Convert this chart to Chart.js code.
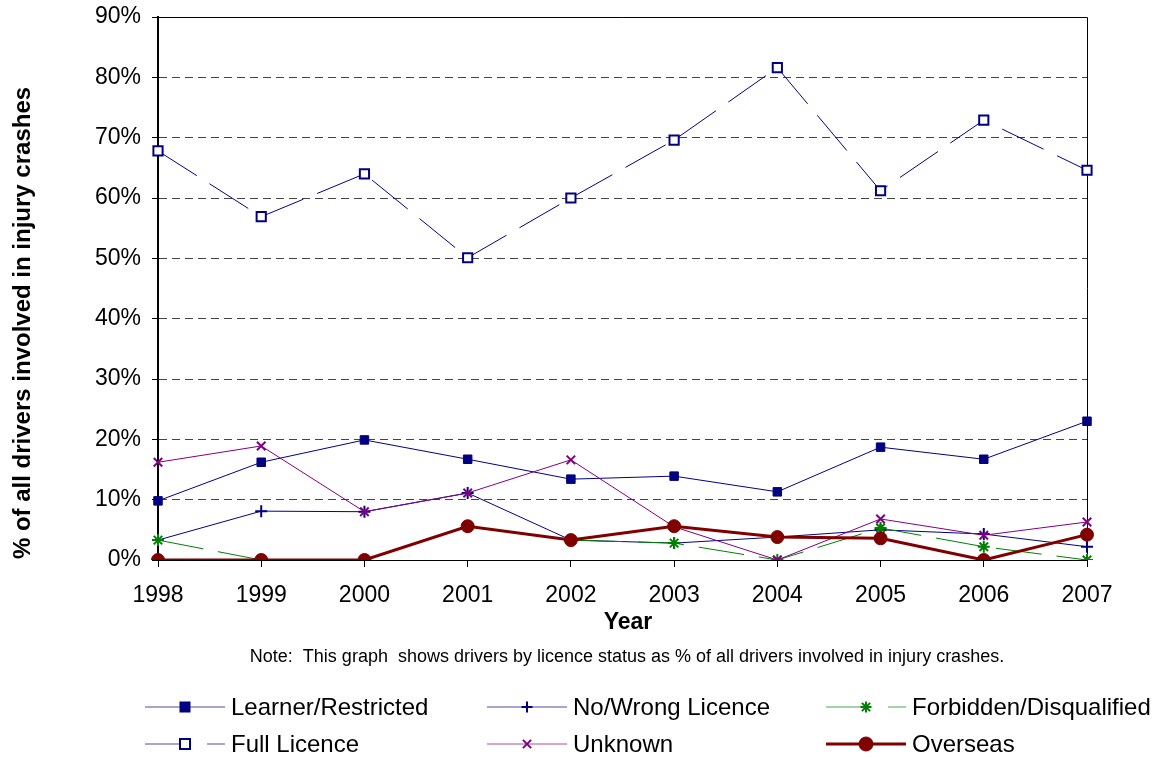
<!DOCTYPE html>
<html>
<head>
<meta charset="utf-8">
<script src="https://cdn.jsdelivr.net/npm/chart.js@4.4.1/dist/chart.umd.min.js"></script>
<style>
body { margin: 0; background: #fff; }
</style>
</head>
<body>
<canvas id="grafik" width="1162" height="758"></canvas>
<script>
// values, in %
var yillar = ["1998", "1999", "2000", "2001", "2002", "2003", "2004", "2005", "2006", "2007"];
var ogrenci = [9.8, 16.2, 19.9, 16.7, 13.4, 13.9, 11.3, 18.7, 16.7, 23.0];
var ehliyetsiz = [3.3, 8.1, 8.0, 11.1, 3.3, 2.8, 3.8, 5.0, 4.3, 2.2];
var yasakli = [3.3, 0, 0, 5.5, 3.3, 2.8, 0, 5.3, 2.2, 0];
var tamEhliyet = [67.8, 56.9, 64.0, 50.1, 60.0, 69.6, 81.6, 61.2, 72.9, 64.6];
var bilinmeyen = [16.2, 18.9, 8.0, 11.1, 16.6, 5.5, 0, 6.8, 4.1, 6.3];
var yabanci = [0, 0, 0, 5.6, 3.3, 5.6, 3.8, 3.6, 0, 4.2];
var yEtiketleri = ["0%", "10%", "20%", "30%", "40%", "50%", "60%", "70%", "80%", "90%"];

var yazi = "Arial, 'Liberation Sans', sans-serif";

var diziler = [
    { label: "Learner/Restricted", data: ogrenci, borderColor: "#000080", backgroundColor: "#000080",
      borderWidth: 1, pointStyle: "rect", pointRadius: 6, pointBorderWidth: 1, order: 6 },
    { label: "No/Wrong Licence", data: ehliyetsiz, borderColor: "#000080", backgroundColor: "#000080",
      borderWidth: 1, pointStyle: "cross", pointRadius: 6, pointBorderWidth: 2, order: 5 },
    { label: "Forbidden/Disqualified", data: yasakli, borderColor: "#008000", backgroundColor: "#008000",
      borderWidth: 1, borderDash: [46, 15], pointStyle: "star", pointRadius: 6, pointBorderWidth: 2, order: 4 },
    { label: "Full Licence", data: tamEhliyet, borderColor: "#000080", backgroundColor: "#ffffff",
      borderWidth: 1, borderDash: [46, 15], pointStyle: "rect", pointRadius: 6.5, pointBorderWidth: 2, order: 3 },
    { label: "Unknown", data: bilinmeyen, borderColor: "#800080", backgroundColor: "#800080",
      borderWidth: 1, pointStyle: "crossRot", pointRadius: 6, pointBorderWidth: 2, order: 2 },
    { label: "Overseas", data: yabanci, borderColor: "#800000", backgroundColor: "#800000",
      borderWidth: 3, pointStyle: "circle", pointRadius: 6.5, pointBorderWidth: 1, order: 1 }
];
diziler.forEach(function (d) {
    d.pointBackgroundColor = d.backgroundColor;
    d.pointBorderColor = d.borderColor;
    d.tension = 0;
    d.fill = false;
});

function isaretCiz(ctx, stil, x, y, r, renk, dolgu, kalinlik) {
    ctx.save();
    ctx.strokeStyle = renk;
    ctx.fillStyle = dolgu;
    ctx.lineWidth = kalinlik;
    ctx.setLineDash([]);
    ctx.beginPath();
    if (stil == "rect") {
        ctx.rect(x - r, y - r, 2 * r, 2 * r);
        ctx.fill();
        ctx.stroke();
    } else if (stil == "circle") {
        ctx.arc(x, y, r, 0, Math.PI * 2);
        ctx.fill();
        ctx.stroke();
    } else {
        if (stil == "cross" || stil == "star") {
            ctx.moveTo(x - r, y); ctx.lineTo(x + r, y);
            ctx.moveTo(x, y - r); ctx.lineTo(x, y + r);
        }
        if (stil == "crossRot" || stil == "star") {
            var k = r * 0.75;
            ctx.moveTo(x - k, y - k); ctx.lineTo(x + k, y + k);
            ctx.moveTo(x - k, y + k); ctx.lineTo(x + k, y - k);
        }
        ctx.stroke();
    }
    ctx.restore();
}

var ekler = {
    id: "ekler",
    beforeDatasetsDraw: function (chart) {
        var ctx = chart.ctx, a = chart.chartArea;
        ctx.save();
        ctx.strokeStyle = "#000";
        ctx.lineWidth = 1;
        ctx.beginPath();
        ctx.moveTo(a.left, a.top + 0.5);
        ctx.lineTo(a.right + 0.5, a.top + 0.5);
        ctx.lineTo(a.right + 0.5, a.bottom);
        ctx.stroke();
        ctx.restore();
    },
    afterDraw: function (chart) {
        var ctx = chart.ctx;
        ctx.save();
        ctx.fillStyle = "#000";
        // y axis title
        ctx.translate(23, 323);
        ctx.rotate(-Math.PI / 2);
        ctx.font = "bold 24px " + yazi;
        ctx.textAlign = "center";
        ctx.textBaseline = "middle";
        ctx.fillText("% of all drivers involved in injury crashes", 0, 0);
        ctx.restore();

        ctx.save();
        ctx.fillStyle = "#000";
        ctx.textAlign = "center";
        ctx.textBaseline = "middle";
        ctx.font = "bold 23px " + yazi;
        ctx.fillText("Year", 628, 623);
        ctx.font = "18px " + yazi;
        ctx.fillText("Note:  This graph  shows drivers by licence status as % of all drivers involved in injury crashes.", 627, 657);
        ctx.restore();

        // legend, 3 columns x 2 rows
        var sutunlar = [145, 487, 826];
        var satirlar = [707, 744];
        ctx.save();
        ctx.font = "24px " + yazi;
        ctx.textBaseline = "middle";
        ctx.textAlign = "left";
        diziler.forEach(function (d, i) {
            var x = sutunlar[i % 3], y = satirlar[Math.floor(i / 3)];
            ctx.save();
            ctx.strokeStyle = d.borderColor;
            ctx.lineWidth = d.borderWidth;
            ctx.globalAlpha = d.borderWidth > 1 ? 1 : 0.7;
            ctx.beginPath();
            if (d.borderDash) {
                ctx.moveTo(x, y); ctx.lineTo(x + 36, y);
                ctx.moveTo(x + 62, y); ctx.lineTo(x + 80, y);
            } else {
                ctx.moveTo(x, y); ctx.lineTo(x + 80, y);
            }
            ctx.stroke();
            ctx.restore();
            var r = d.pointStyle == "circle" ? 7 : (d.pointStyle == "rect" ? (d.backgroundColor == "#ffffff" ? 5 : 4.5) : 5.5);
            isaretCiz(ctx, d.pointStyle, x + 40, y, r, d.borderColor, d.backgroundColor,
                d.pointStyle == "circle" ? 1 : 2);
            ctx.fillStyle = "#000";
            ctx.fillText(d.label, x + 86, y + 1);
        });
        ctx.restore();
    }
};

var grafik = new Chart(document.getElementById("grafik").getContext("2d"), {
    type: "line",
    data: { labels: yillar, datasets: diziler },
    options: {
        responsive: false,
        animation: false,
        layout: { padding: { left: 0, right: 75, top: 17, bottom: 0 } },
        plugins: { legend: { display: false }, tooltip: { enabled: false } },
        scales: {
            x: {
                offset: false,
                grid: { drawOnChartArea: false, tickLength: 7, color: "#000" },
                border: { color: "#000", width: 1 },
                ticks: { color: "#000", font: { family: yazi, size: 23 }, padding: 15, maxRotation: 0, autoSkip: false },
                afterFit: function (s) { s.height = 198; s.paddingLeft = 0; s.paddingRight = 0; }
            },
            y: {
                min: 0, max: 90,
                grid: {
                    color: function (c) { return c.tick && c.tick.value == 0 ? "rgba(0,0,0,0)" : "#444"; },
                    tickColor: "#000", tickLength: 6
                },
                border: { color: "#000", width: 2, dash: [8, 5] },
                ticks: {
                    stepSize: 10, color: "#000", font: { family: yazi, size: 23 }, padding: 11,
                    callback: function (v) { return yEtiketleri[Math.round(v / 10)]; }
                },
                afterFit: function (s) { s.width = 158; s.paddingTop = 0; s.paddingBottom = 0; }
            }
        }
    },
    plugins: [ekler]
});
</script>
</body>
</html>
